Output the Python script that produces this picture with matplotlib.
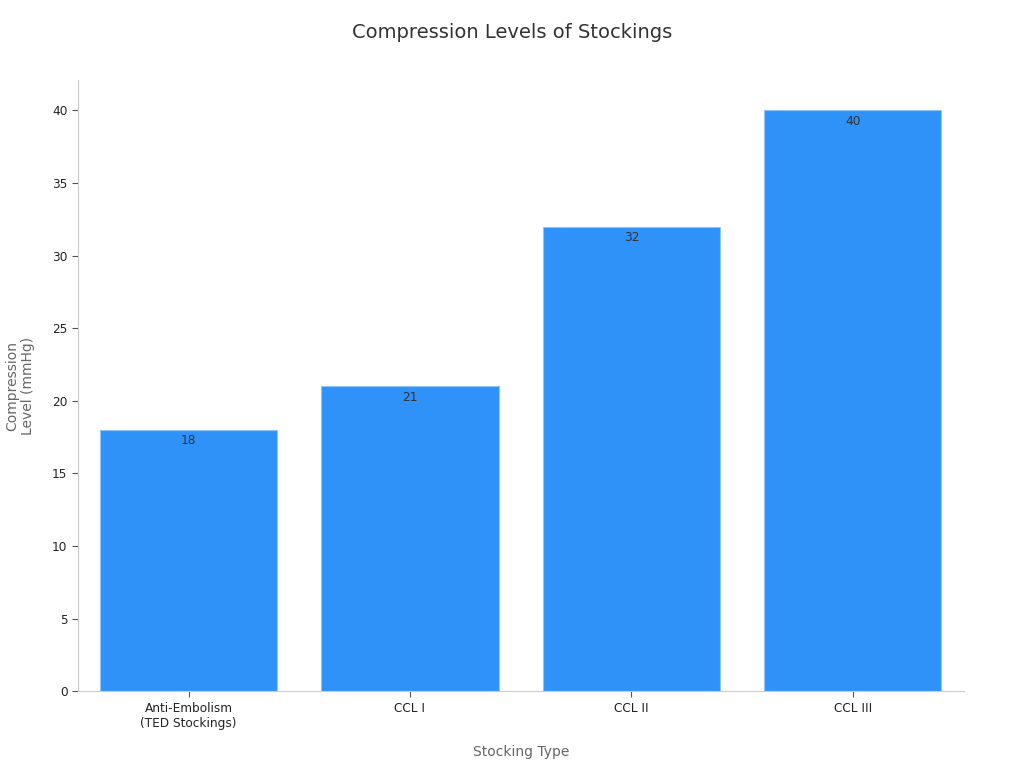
import matplotlib
matplotlib.use('Agg')
import matplotlib.pyplot as plt

# Data
categories = ['Anti-Embolism\n(TED Stockings)', 'CCL I', 'CCL II', 'CCL III']
levels = [18, 21, 32, 40]

fig = plt.figure(figsize=(10.24, 7.68), dpi=100)
ax = fig.add_axes([0.076, 0.100, 0.865, 0.796])

x = range(len(categories))
bars = ax.bar(x, levels, width=0.8, color='#2F92F9', edgecolor='#8FC3FB', linewidth=0.8)

for b, v in zip(bars, levels):
    ax.text(b.get_x() + b.get_width() / 2, v - 0.3, str(v),
            ha='center', va='top', fontsize=8.7, color='#333333')

ax.set_xlim(-0.5, 3.5)
ax.set_ylim(0, 42.1)
ax.set_xticks(list(x))
ax.set_xticklabels(categories, fontsize=8.7, color='#222222')
ax.set_yticks(range(0, 41, 5))
ax.tick_params(axis='y', labelsize=8.7, labelcolor='#222222', color='#555555', length=4)
ax.tick_params(axis='x', color='#555555', length=4)

for s in ['top', 'right']:
    ax.spines[s].set_visible(False)
for s in ['left', 'bottom']:
    ax.spines[s].set_color('#cccccc')

ax.set_xlabel('Stocking Type', fontsize=10, color='#666666', labelpad=11)
ax.set_ylabel('Compression\nLevel (mmHg)', fontsize=10, color='#666666', labelpad=12)
fig.suptitle('Compression Levels of Stockings', fontsize=14, color='#333333', y=0.97)

fig.savefig('out.png', dpi=100)
